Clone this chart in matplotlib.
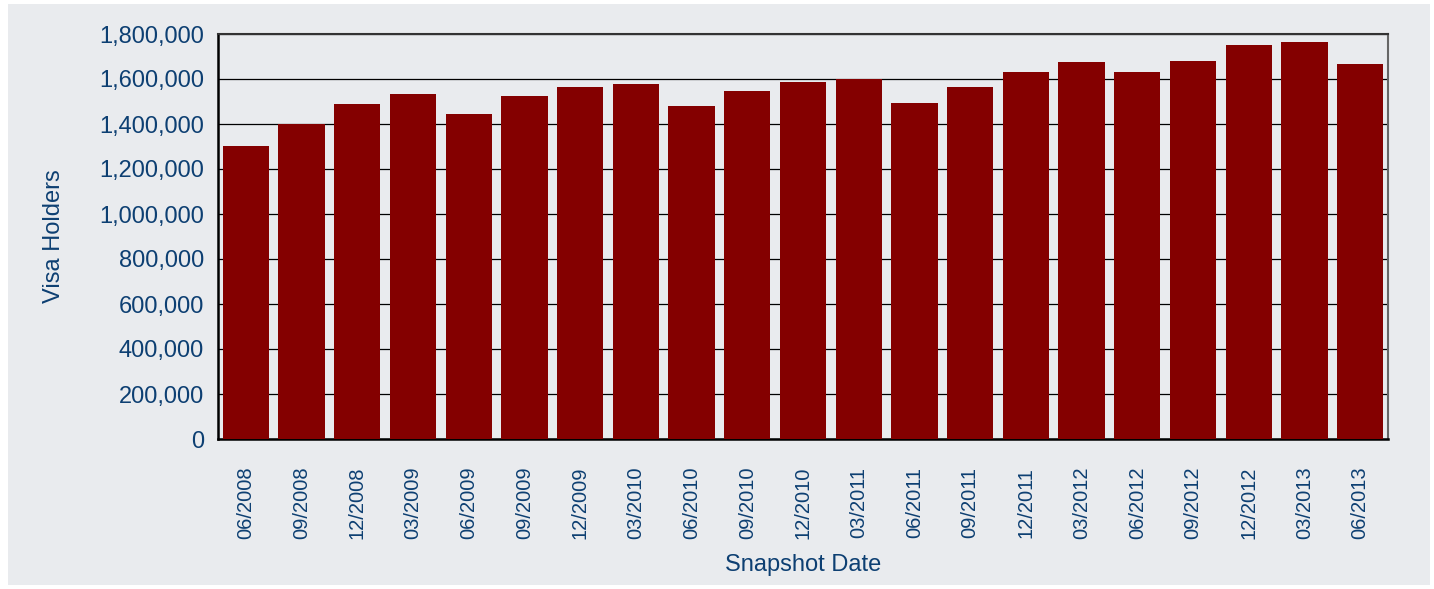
import matplotlib.pyplot as plt
from matplotlib.patches import Rectangle
from matplotlib.ticker import FuncFormatter

plt.rcParams['font.family'] = ['Liberation Sans', 'DejaVu Sans']

# data
dates = ['06/2008', '09/2008', '12/2008', '03/2009', '06/2009', '09/2009', '12/2009',
         '03/2010', '06/2010', '09/2010', '12/2010', '03/2011', '06/2011', '09/2011',
         '12/2011', '03/2012', '06/2012', '09/2012', '12/2012', '03/2013', '06/2013']
holders = [1303000, 1400000, 1490000, 1535000, 1446000, 1526000, 1566000,
           1579000, 1481000, 1548000, 1588000, 1598000, 1495000, 1566000,
           1632000, 1677000, 1632000, 1681000, 1752000, 1766000, 1668000]
yticks = list(range(0, 1800001, 200000))

txt = '#0D3F72'
bg = '#E9EBEE'
bar_col = '#840000'

fig = plt.figure(figsize=(14.34, 5.89), dpi=100)
fig.patch.set_facecolor('white')
# gray panel behind everything
fig.patches.append(Rectangle((8 / 1434, 4 / 589), 1422 / 1434, 581 / 589,
                             transform=fig.transFigure, facecolor=bg,
                             edgecolor='none', zorder=-10))

ax = fig.add_axes([218 / 1434, 1 - 439 / 589, 1170 / 1434, 405 / 589])
ax.set_facecolor(bg)

x = range(len(dates))
ax.bar(x, holders, width=0.83, color=bar_col, zorder=3)

ax.set_xlim(-0.5, len(dates) - 0.5)
ax.set_ylim(0, 1800000)
ax.set_yticks(yticks)
ax.yaxis.set_major_formatter(FuncFormatter(lambda v, p: f'{int(v):,}'))
ax.set_xticks(list(x))
ax.set_xticklabels(dates, rotation=90)

ax.grid(axis='y', color='black', linewidth=0.9, zorder=1)
ax.tick_params(axis='y', length=0, pad=10, labelsize=17, labelcolor=txt)
ax.tick_params(axis='x', length=0, pad=20, labelsize=14.5, labelcolor=txt)

ax.spines['left'].set_linewidth(1.8)
ax.spines['bottom'].set_linewidth(1.8)
ax.spines['top'].set_color('#333333')
ax.spines['top'].set_linewidth(1.5)
ax.spines['right'].set_color('#666666')
ax.spines['right'].set_linewidth(1.5)

ax.set_ylabel('Visa Holders', fontsize=17, color=txt)
ax.set_xlabel('Snapshot Date', fontsize=17, color=txt)
ax.yaxis.set_label_coords(-0.1308, 0.5)
ax.xaxis.set_label_coords(0.5, -0.284)

fig.savefig('out.png', dpi=100)
